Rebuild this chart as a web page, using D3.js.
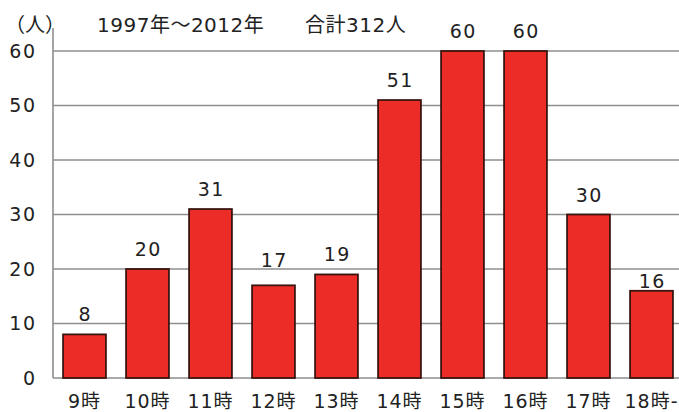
<!DOCTYPE html>
<html>
<head>
<meta charset="utf-8">
<script src="https://cdn.jsdelivr.net/npm/d3@7"></script>
<style>
  html, body { margin: 0; padding: 0; background: #fff; }
  svg { display: block; }
  text { font-family: "DejaVu Sans", "Noto Sans CJK JP", sans-serif; fill: #222; }
</style>
</head>
<body>
<svg id="chart" width="679" height="412"></svg>
<script>
// Hour of day categories and counts (1997–2012, total 312)
const hours = ["9時", "10時", "11時", "12時", "13時", "14時", "15時", "16時", "17時", "18時-"];
const counts = [8, 20, 31, 17, 19, 51, 60, 60, 30, 16];
const yTicks = [0, 10, 20, 30, 40, 50, 60];
const unitLabel = "（人）";
const periodText = "1997年～2012年";
const totalText = "合計312人";

const FONT = "'DejaVu Sans', 'Noto Sans CJK JP', sans-serif";
const svg = d3.select("#chart");
const width = 679;
const plot = { left: 53, right: 683, top: 51, bottom: 378 };

const x = d3.scaleBand()
  .domain(hours)
  .range([plot.left, plot.right])
  .paddingInner(0.32)
  .paddingOuter(0.16);

const y = d3.scaleLinear()
  .domain([0, 60])
  .range([plot.bottom, plot.top]);

// horizontal gridlines
svg.append("g")
  .selectAll("line")
  .data(yTicks)
  .join("line")
  .attr("x1", plot.left)
  .attr("x2", width)
  .attr("y1", d => y(d))
  .attr("y2", d => y(d))
  .attr("stroke", "#8e8e8e")
  .attr("stroke-width", 1.6);

// vertical axis line
svg.append("line")
  .attr("x1", plot.left).attr("x2", plot.left)
  .attr("y1", 28).attr("y2", plot.bottom)
  .attr("stroke", "#8e8e8e")
  .attr("stroke-width", 1.6);

// y tick labels
const yAxis = d3.axisLeft(y).tickValues(yTicks).tickSize(0).tickPadding(16.5);
const yg = svg.append("g")
  .attr("transform", `translate(${plot.left},0)`)
  .call(yAxis);
yg.select(".domain").remove();
yg.selectAll("text")
  .attr("font-size", 19)
  .attr("font-family", FONT)
  .attr("letter-spacing", 1.5)
  .attr("fill", "#222");

// bars
svg.append("g")
  .selectAll("rect")
  .data(counts)
  .join("rect")
  .attr("x", (d, i) => x(hours[i]))
  .attr("y", d => y(d))
  .attr("width", x.bandwidth())
  .attr("height", d => y(0) - y(d))
  .attr("fill", "#eb2c27")
  .attr("stroke", "#3b1410")
  .attr("stroke-width", 1.8);

// value labels sit 13px above the bar, nudged off any gridline they would cross
const gridYs = yTicks.map(t => y(t));
function labelBaseline(v) {
  const base = y(v) - 13;
  const hit = gridYs.find(g => g >= base - 15 && g <= base + 1.5);
  if (hit === undefined) return base;
  const up = hit - 2.5, down = hit + 19;
  return Math.abs(up - base) <= Math.abs(down - base) ? up : down;
}
svg.append("g")
  .selectAll("text")
  .data(counts)
  .join("text")
  .attr("x", (d, i) => x(hours[i]) + x.bandwidth() / 2 + 0.75)
  .attr("y", d => labelBaseline(d))
  .attr("text-anchor", "middle")
  .attr("font-size", 19)
  .attr("letter-spacing", 1.5)
  .text(d => d);

// x category labels
const xAxis = d3.axisBottom(x).tickSize(0).tickPadding(16.5);
const xg = svg.append("g")
  .attr("transform", `translate(0,${plot.bottom})`)
  .call(xAxis);
xg.select(".domain").remove();
xg.selectAll("text")
  .attr("font-size", 19)
  .attr("font-family", FONT)
  .attr("letter-spacing", 1)
  .attr("fill", "#222");

// unit and title
svg.append("text")
  .attr("x", 5)
  .attr("y", 32)
  .attr("font-size", 20)
  .text(unitLabel);

svg.append("text")
  .attr("x", 97)
  .attr("y", 32)
  .attr("font-size", 20)
  .attr("letter-spacing", 0.5)
  .text(periodText);

svg.append("text")
  .attr("x", 305)
  .attr("y", 32)
  .attr("font-size", 20)
  .attr("letter-spacing", 0.5)
  .text(totalText);
</script>
</body>
</html>
